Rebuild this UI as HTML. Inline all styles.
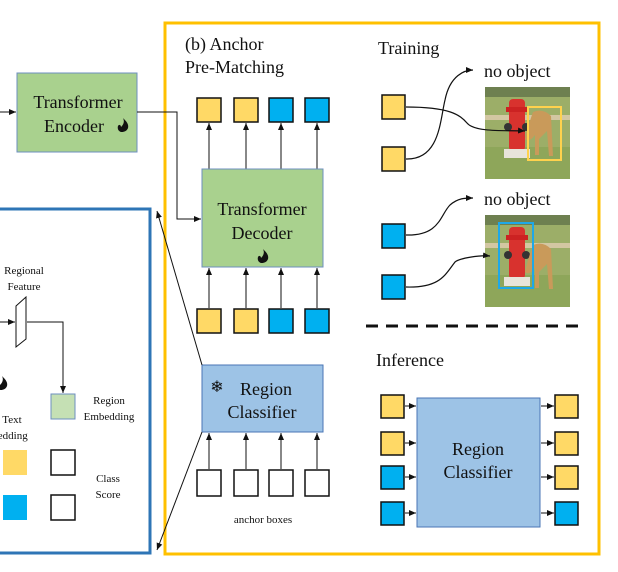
<!DOCTYPE html>
<html><head><meta charset="utf-8"><style>
html,body{margin:0;padding:0;background:#fff;width:618px;height:572px;overflow:hidden}
text{font-family:"Liberation Serif",serif;fill:#111}
</style></head><body>
<svg width="618" height="572" viewBox="0 0 618 572" xmlns="http://www.w3.org/2000/svg">
<defs>
<marker id="a" markerWidth="8" markerHeight="8" refX="7" refY="4" orient="auto" markerUnits="userSpaceOnUse"><path d="M0,1 L7,4 L0,7 z" fill="#111"/></marker>
<g id="img">
<rect x="0" y="0" width="85" height="92" fill="#9cae68"/>
<rect x="0" y="0" width="85" height="10" fill="#6e8050"/>
<rect x="0" y="28" width="85" height="5" fill="#d3c7a2"/>
<rect x="0" y="60" width="85" height="32" fill="#8ea65a"/>
</g>
<g id="fire"><rect x="-8" y="0" width="16" height="52" rx="4" fill="#d8322e"/><rect x="-11" y="8" width="22" height="5" fill="#c22"/><circle cx="-9" cy="28" r="4" fill="#333"/><circle cx="9" cy="28" r="4" fill="#333"/><rect x="-13" y="50" width="26" height="9" fill="#e8e4da"/></g>
<g id="dog"><path d="M0,0 q10,-4 18,4 l2,40 h-4 l-2,-25 -8,8 v16 h-4 v-20 q-6,8 -10,4 q2,-10 8,-27z" fill="#c99a5a"/></g>
<path id="flame" d="M0,-7 C3,-4 6,-1 5,3 C4,6 1,7 -1,7 C-4,7 -6,4 -5,1 C-4,-1 -2,0 -2,2 C0,0 2,-3 0,-7z" fill="#111"/>
</defs>

<rect x="165" y="23" width="434" height="531" fill="none" stroke="#FFC000" stroke-width="3"/>
<rect x="-5" y="209" width="155" height="344" fill="none" stroke="#2E75B6" stroke-width="3"/>

<rect x="17" y="73" width="120" height="79" fill="#A9D18E" stroke="#6d8fbf" stroke-width="1"/>
<text x="78" y="108" font-size="18" text-anchor="middle">Transformer</text>
<text x="74" y="132" font-size="18" text-anchor="middle">Encoder</text>
<use href="#flame" x="123" y="125"/>
<line x1="0" y1="112" x2="16" y2="112" stroke="#111" marker-end="url(#a)"/>
<polyline points="137,112 177,112 177,219 201,219" fill="none" stroke="#111" marker-end="url(#a)"/>

<text x="185" y="50" font-size="18">(b) Anchor</text>
<text x="185" y="73" font-size="18">Pre-Matching</text>

<g stroke="#111" stroke-width="1.5">
<rect x="197" y="98" width="24" height="24" fill="#FFD966"/>
<rect x="234" y="98" width="24" height="24" fill="#FFD966"/>
<rect x="269" y="98" width="24" height="24" fill="#00B0F0"/>
<rect x="305" y="98" width="24" height="24" fill="#00B0F0"/>
<rect x="197" y="309" width="24" height="24" fill="#FFD966"/>
<rect x="234" y="309" width="24" height="24" fill="#FFD966"/>
<rect x="269" y="309" width="24" height="24" fill="#00B0F0"/>
<rect x="305" y="309" width="24" height="24" fill="#00B0F0"/>
<rect x="197" y="470" width="24" height="26" fill="#fff"/>
<rect x="234" y="470" width="24" height="26" fill="#fff"/>
<rect x="269" y="470" width="24" height="26" fill="#fff"/>
<rect x="305" y="470" width="24" height="26" fill="#fff"/>
</g>
<g stroke="#111" marker-end="url(#a)">
<line x1="209" y1="169" x2="209" y2="123"/><line x1="246" y1="169" x2="246" y2="123"/><line x1="281" y1="169" x2="281" y2="123"/><line x1="317" y1="169" x2="317" y2="123"/>
<line x1="209" y1="308" x2="209" y2="268"/><line x1="246" y1="308" x2="246" y2="268"/><line x1="281" y1="308" x2="281" y2="268"/><line x1="317" y1="308" x2="317" y2="268"/>
<line x1="209" y1="469" x2="209" y2="433"/><line x1="246" y1="469" x2="246" y2="433"/><line x1="281" y1="469" x2="281" y2="433"/><line x1="317" y1="469" x2="317" y2="433"/>
</g>

<rect x="202" y="169" width="121" height="98" fill="#A9D18E" stroke="#6d8fbf"/>
<text x="262" y="215" font-size="18" text-anchor="middle">Transformer</text>
<text x="262" y="239" font-size="18" text-anchor="middle">Decoder</text>
<use href="#flame" x="263" y="256"/>

<rect x="202" y="365" width="121" height="67" fill="#9DC3E6" stroke="#4a76b5"/>
<text x="217" y="392" font-size="16" text-anchor="middle">❄</text>
<text x="266" y="395" font-size="18" text-anchor="middle">Region</text>
<text x="262" y="418" font-size="18" text-anchor="middle">Classifier</text>
<text x="263" y="523" font-size="11" text-anchor="middle">anchor boxes</text>

<line x1="202" y1="365" x2="157" y2="211" stroke="#111" marker-end="url(#a)"/>
<line x1="202" y1="432" x2="157" y2="550" stroke="#111" marker-end="url(#a)"/>

<text x="24" y="274" font-size="11" text-anchor="middle">Regional</text>
<text x="24" y="290" font-size="11" text-anchor="middle">Feature</text>
<polygon points="16,306 26,297 26,339 16,347" fill="#fff" stroke="#111"/>
<line x1="0" y1="322" x2="15" y2="322" stroke="#111" marker-end="url(#a)"/>
<polyline points="27,322 63,322 63,393" fill="none" stroke="#111" marker-end="url(#a)"/>
<use href="#flame" x="2" y="383"/>
<rect x="51" y="394" width="24" height="25" fill="#C5E0B4" stroke="#6d8fbf"/>
<text x="109" y="404" font-size="11" text-anchor="middle">Region</text>
<text x="109" y="420" font-size="11" text-anchor="middle">Embedding</text>
<text x="12" y="423" font-size="11" text-anchor="middle">Text</text>
<text x="10" y="439" font-size="11" text-anchor="middle">bedding</text>
<rect x="3" y="450" width="24" height="25" fill="#FFD966"/>
<rect x="3" y="495" width="24" height="25" fill="#00B0F0"/>
<rect x="51" y="450" width="24" height="25" fill="#fff" stroke="#111" stroke-width="1.5"/>
<rect x="51" y="495" width="24" height="25" fill="#fff" stroke="#111" stroke-width="1.5"/>
<text x="108" y="482" font-size="11" text-anchor="middle">Class</text>
<text x="108" y="498" font-size="11" text-anchor="middle">Score</text>

<text x="378" y="54" font-size="18">Training</text>
<text x="484" y="77" font-size="18">no object</text>
<text x="484" y="205" font-size="18">no object</text>
<g transform="translate(485,87)"><use href="#img"/><use href="#fire" x="32" y="12"/><use href="#dog" x="48" y="25"/><rect x="43" y="20" width="33" height="53" fill="none" stroke="#FFD24D" stroke-width="2"/></g>
<g transform="translate(485,215)"><use href="#img"/><use href="#fire" x="32" y="12"/><use href="#dog" x="48" y="30"/><rect x="14" y="8" width="34" height="65" fill="none" stroke="#1ea8e8" stroke-width="2"/></g>
<g stroke="#111" stroke-width="1.5">
<rect x="382" y="95" width="23" height="24" fill="#FFD966"/>
<rect x="382" y="147" width="23" height="24" fill="#FFD966"/>
<rect x="382" y="224" width="23" height="24" fill="#00B0F0"/>
<rect x="382" y="275" width="23" height="24" fill="#00B0F0"/>
</g>
<g fill="none" stroke="#111" stroke-width="1.2" marker-end="url(#a)">
<path d="M406,107 C450,107 460,115 467,123 C475,133 510,130 525,131"/>
<path d="M406,159 C440,160 440,120 445,100 C450,75 465,70 473,70"/>
<path d="M406,235 C440,236 440,215 450,205 C458,198 465,198 473,198"/>
<path d="M406,287 C440,288 445,275 455,262 C460,258 480,255 490,256"/>
</g>

<line x1="366" y1="326" x2="582" y2="326" stroke="#111" stroke-width="3" stroke-dasharray="12,8"/>

<text x="376" y="366" font-size="18">Inference</text>
<rect x="417" y="398" width="123" height="129" fill="#9DC3E6" stroke="#4a76b5"/>
<text x="478" y="455" font-size="18" text-anchor="middle">Region</text>
<text x="478" y="478" font-size="18" text-anchor="middle">Classifier</text>
<g stroke="#111" stroke-width="1.5">
<rect x="381" y="395" width="23" height="23" fill="#FFD966"/>
<rect x="381" y="432" width="23" height="23" fill="#FFD966"/>
<rect x="381" y="466" width="23" height="23" fill="#00B0F0"/>
<rect x="381" y="502" width="23" height="23" fill="#00B0F0"/>
<rect x="555" y="395" width="23" height="23" fill="#FFD966"/>
<rect x="555" y="432" width="23" height="23" fill="#FFD966"/>
<rect x="555" y="466" width="23" height="23" fill="#FFD966"/>
<rect x="555" y="502" width="23" height="23" fill="#00B0F0"/>
</g>
<g stroke="#111" marker-end="url(#a)">
<line x1="405" y1="406" x2="416" y2="406"/><line x1="405" y1="443" x2="416" y2="443"/><line x1="405" y1="477" x2="416" y2="477"/><line x1="405" y1="513" x2="416" y2="513"/>
<line x1="541" y1="406" x2="554" y2="406"/><line x1="541" y1="443" x2="554" y2="443"/><line x1="541" y1="477" x2="554" y2="477"/><line x1="541" y1="513" x2="554" y2="513"/>
</g>
</svg>
</body></html>
